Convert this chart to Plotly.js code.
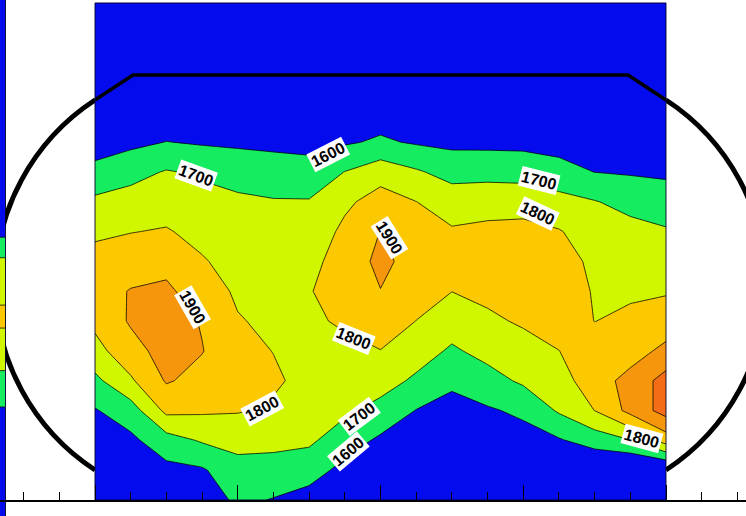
<!DOCTYPE html>
<html>
<head>
<meta charset="utf-8">
<script src="https://cdn.plot.ly/plotly-3.0.1.min.js"></script>
<style>html,body{margin:0;padding:0;background:#fff}#chart{width:746px;height:516px}</style>
</head>
<body>
<div id="chart"></div>
<script>
// ---- data ----
// grid columns (x, distance units) and rows (y, distance units, bottom -> top)
const gridX = [0, 2.5, 5, 7.5, 10, 12.5, 15, 17.5, 20, 22.5, 25, 27.5, 30, 32.5, 35, 37.5, 40];
const gridY = [0, 3, 6, 9, 12, 15, 18, 21, 24, 27, 30, 33, 36, 40, 50];
// measured values per column (each list runs bottom -> top, one value per gridY row)
const col00 = [1480,1518,1555,1593,1676,1767,1823,1860,1827,1786,1721,1626,1557,1480,1400];
const col01 = [1500,1540,1579,1652,1786,1863,1911,1905,1855,1797,1740,1667,1577,1500,1400];
const col02 = [1520,1573,1658,1824,1909,1939,1950,1918,1871,1808,1756,1707,1602,1500,1400];
const col03 = [1540,1588,1710,1814,1869,1904,1893,1851,1809,1770,1733,1686,1590,1510,1400];
const col04 = [1620,1667,1730,1807,1829,1830,1807,1785,1762,1738,1715,1667,1582,1510,1400];
const col05 = [1595,1661,1727,1785,1815,1798,1779,1761,1743,1725,1707,1645,1578,1520,1400];
const col06 = [1560,1643,1717,1743,1770,1778,1787,1795,1766,1737,1707,1632,1575,1520,1400];
const col07 = [1520,1570,1646,1718,1749,1781,1811,1840,1852,1822,1781,1702,1589,1530,1400];
const col08 = [1500,1541,1583,1667,1741,1798,1848,1898,1920,1902,1841,1760,1613,1540,1400];
const col09 = [1480,1519,1558,1597,1683,1745,1799,1834,1868,1836,1801,1712,1590,1530,1400];
const col10 = [1470,1504,1539,1573,1615,1686,1746,1801,1826,1810,1755,1664,1577,1520,1400];
const col11 = [1470,1510,1549,1589,1663,1731,1784,1821,1850,1819,1767,1665,1576,1520,1400];
const col12 = [1480,1522,1564,1618,1716,1766,1811,1846,1860,1824,1768,1658,1575,1520,1400];
const col13 = [1500,1545,1590,1712,1756,1799,1839,1878,1844,1806,1737,1629,1570,1520,1400];
const col14 = [1460,1490,1645,1801,1859,1848,1799,1789,1778,1756,1705,1599,1565,1520,1400];
const col15 = [1440,1470,1697,1930,1930,1861,1817,1788,1768,1732,1669,1591,1561,1520,1400];
const col16 = [1440,1472,1846,2040,2040,1923,1851,1791,1751,1711,1641,1586,1558,1520,1400];

// neighbouring panel (its right edge only is visible at the far left)
const edgeX = [-6.8, -6.27];
const edgeY = [-1.61, 0, 3, 6, 9, 12, 15, 18, 21, 24, 27, 30, 33, 36, 40, 50, 50.3];
const edgeVals = [1450,1471,1511,1551,1590,1674,1751,1815,1787,1718,1573,1504,1486,1471,1451,1401,1400];

// contour levels and their label text
const levelStart = 1600, levelEnd = 2000, levelStep = 100;
const bandColors = ['rgb(4,12,238)','rgb(22,236,96)','rgb(208,246,0)','rgb(252,200,0)','rgb(246,150,12)','rgb(244,108,22)'];
const labelTexts = ['1700','1600','1700','1800','1900','1900','1800','1800','1700','1600','1800'];

// ---- build ----
const cols = [col00,col01,col02,col03,col04,col05,col06,col07,col08,col09,col10,col11,col12,col13,col14,col15,col16];
const zMain = gridY.map((_, r) => cols.map(c => c[r]));
const zEdge = edgeVals.map(v => [v, v]);

const n = bandColors.length;
const colorscale = [];
bandColors.forEach((c, i) => { colorscale.push([i / n, c]); colorscale.push([(i + 1) / n, c]); });

const contourStyle = {
  type: 'contour',
  colorscale: colorscale,
  showscale: false,
  contours: {start: levelStart, end: levelEnd, size: levelStep, coloring: 'fill', showlabels: false},
  line: {color: 'rgba(0,0,0,0.85)', width: 0.9, smoothing: 0},
  hoverinfo: 'skip'
};

const traces = [
  Object.assign({}, contourStyle, {x: gridX, y: gridY, z: zMain}),
  Object.assign({}, contourStyle, {x: edgeX, y: edgeY, z: zEdge})
];

// pixel -> paper helpers (canvas 746 x 516, plot area = whole canvas)
const W = 746, H = 516;
const px = (x, y) => (x / W).toFixed(5) + ',' + (1 - y / H).toFixed(5);

// label placements (pixel centre, angle)
const labelPlaces = [
  [196,176,20],[328,154,-27],[539,181,14],[538,213,25],[389,238,58],[193,307,60],
  [354,338,22],[262,408,-28],[359,416,-37],[348,451,-40],[642,438,15]
];
const annotations = labelTexts.map((t, i) => ({
  xref: 'paper', yref: 'paper',
  x: labelPlaces[i][0] / W, y: 1 - labelPlaces[i][1] / H,
  xanchor: 'center', yanchor: 'middle',
  text: '<b>' + t + '</b>', textangle: labelPlaces[i][2],
  showarrow: false, bgcolor: 'white', borderpad: 1,
  font: {family: 'Liberation Sans, Arial, sans-serif', size: 16, color: 'black'}
}));

const arcs = 'M ' + px(95,470) + ' C ' + px(32.6,429.2) + ' ' + px(-5,359.6) + ' ' + px(-5,285) +
  ' C ' + px(-5,210.4) + ' ' + px(32.6,140.8) + ' ' + px(95,100) +
  ' M ' + px(666,100) + ' C ' + px(728.4,140.8) + ' ' + px(766,210.4) + ' ' + px(766,285) +
  ' C ' + px(766,359.6) + ' ' + px(728.4,429.2) + ' ' + px(666,470);
const topLine = 'M ' + px(95,100) + ' L ' + px(133,75) + ' L ' + px(628,75) + ' L ' + px(666,100);

const shapes = [
  {type: 'path', xref: 'paper', yref: 'paper', path: arcs, layer: 'below', line: {color: 'black', width: 5}},
  {type: 'path', xref: 'paper', yref: 'paper', path: topLine, layer: 'above', line: {color: 'black', width: 3.5}},
  {type: 'rect', xref: 'x', yref: 'y', x0: gridX[0], x1: gridX[gridX.length - 1], y0: gridY[0], y1: gridY[gridY.length - 1],
   layer: 'above', line: {color: 'rgba(0,0,40,0.9)', width: 1}},
  {type: 'line', xref: 'x', yref: 'y', x0: edgeX[1], x1: edgeX[1], y0: edgeY[0], y1: edgeY[edgeY.length - 1],
   layer: 'above', line: {color: 'rgba(0,0,40,0.9)', width: 1}}
];

const layout = {
  width: W, height: H,
  margin: {l: 0, r: 0, t: 0, b: 0, pad: 0},
  paper_bgcolor: 'white', plot_bgcolor: 'white',
  showlegend: false,
  xaxis: {
    range: [-95 / 14.275, (W - 95) / 14.275],
    anchor: 'free', position: 15 / H,
    showline: true, linecolor: 'black', linewidth: 2,
    ticks: 'inside', ticklen: 15, tickwidth: 1, tickcolor: 'black',
    tick0: 0, dtick: 10,
    minor: {ticks: 'inside', ticklen: 8, tickwidth: 1, tickcolor: 'black', dtick: 2.5, tick0: 0},
    showticklabels: false, showgrid: false, zeroline: false, fixedrange: true
  },
  yaxis: {range: [-1.61, 50.30], visible: false, fixedrange: true, showgrid: false, zeroline: false},
  annotations: annotations,
  shapes: shapes
};

Plotly.newPlot('chart', traces, layout, {staticPlot: true, displayModeBar: false});
</script>
</body>
</html>
